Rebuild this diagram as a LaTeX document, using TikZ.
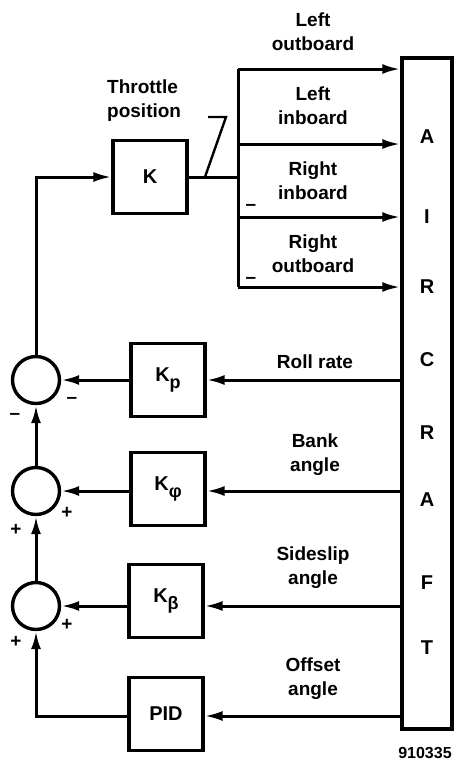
\documentclass[tikz,border=0pt]{standalone}
\usepackage{fontspec}
\setmainfont{Liberation Sans}
\usetikzlibrary{arrows.meta}
\newcommand{\lowsub}[1]{\raisebox{-0.35em}{\fontsize{18}{18}\selectfont #1}}
\begin{document}
\begin{tikzpicture}[x=1pt,y=-1pt,
  lbl/.style={font=\fontsize{19}{24}\selectfont\bfseries, align=center, inner sep=0pt},
  blk/.style={draw, line width=3.2pt, minimum width=74pt, minimum height=73pt, inner sep=0pt, font=\fontsize{20}{24}\selectfont\bfseries},
  sumc/.style={draw, circle, line width=3.4pt, minimum size=47pt, inner sep=0pt},
  wire/.style={line width=3pt},
  arr/.style={wire, -{Latex[length=18pt,width=10pt]}},
  sgn/.style={font=\fontsize{19}{19}\selectfont\bfseries, inner sep=0pt}]
\useasboundingbox (0,0) rectangle (454,764);
% aircraft block
\node[draw, line width=3.4pt, minimum width=50pt, minimum height=671pt, inner sep=0pt] (ac) at (427,393.5) {};
\foreach \l/\yy in {A/137, I/217, R/287, C/360, R/433, A/500, F/583, T/648}
  \node[lbl, font=\fontsize{20}{24}\selectfont\bfseries] at (427,\yy) {\l};
% K block
\node[blk] (k) at (150,177) {K};
\coordinate (bt) at (238,69);
\coordinate (bb) at (238,287);
\coordinate (kj) at (238,177);
\draw[wire] (k.east) -- (kj);
\draw[wire] (bt) -- (bb);
\foreach \yy in {69,144,217,287}
  \draw[arr] (238,\yy) -- (ac.west |- 0,\yy);
\node[lbl] at (313,32) {Left\\outboard};
\node[lbl] at (313,106) {Left\\inboard};
\node[lbl] at (313,181) {Right\\inboard};
\node[lbl] at (313,254) {Right\\outboard};
\node[sgn] at (251,207) {–};
\node[sgn] at (251,280) {–};
% throttle position
\node[lbl, align=left, anchor=west] (tp) at (107,101) {Throttle\\position};
\coordinate (l1) at (208,117);
\coordinate (l2) at (226,117);
\coordinate (l3) at (205,177);
\draw[line width=2.4pt] (l1) -- (l2) -- (l3);
% feedback blocks
\node[blk] (kp) at (168,380) {K\lowsub{p}};
\node[blk] (kf) at (168,489) {K\lowsub{φ}};
\node[blk] (kb) at (166,601) {K\lowsub{β}};
\node[blk] (pid) at (166,714) {PID};
\node[sumc] (s1) at (36,380) {};
\node[sumc] (s2) at (36,491) {};
\node[sumc] (s3) at (36,606) {};
\draw[arr] (ac.west |- kp) -- (kp.east);
\draw[arr] (ac.west |- 0,491) -- (kf.east |- 0,491);
\draw[arr] (ac.west |- 0,606) -- (kb.east |- 0,606);
\draw[arr] (ac.west |- 0,716) -- (pid.east |- 0,716);
\draw[arr] (kp.west) -- (s1.east);
\draw[arr] (kf.west |- s2) -- (s2.east);
\draw[arr] (kb.west |- s3) -- (s3.east);
\draw[arr] (pid.west |- 0,716) -- (36,716) -- (s3.south);
\draw[arr] (s3.north) -- (s2.south);
\draw[arr] (s2.north) -- (s1.south);
\draw[arr] (s1.north) -- (36,177) -- (k.west);
\node[lbl] at (315,362) {Roll rate};
\node[lbl] at (315,455) {Bank\\angle};
\node[lbl] at (313,568) {Sideslip\\angle};
\node[lbl] at (313,679) {Offset\\angle};
\node[sgn] at (72,400) {–};
\node[sgn] at (15,416) {–};
\node[sgn] at (67,513) {+};
\node[sgn] at (16,530) {+};
\node[sgn] at (67,625) {+};
\node[sgn] at (16,642) {+};
\node[lbl, font=\fontsize{16}{16}\selectfont\bfseries] at (425,753) {910335};
\end{tikzpicture}
\end{document}
